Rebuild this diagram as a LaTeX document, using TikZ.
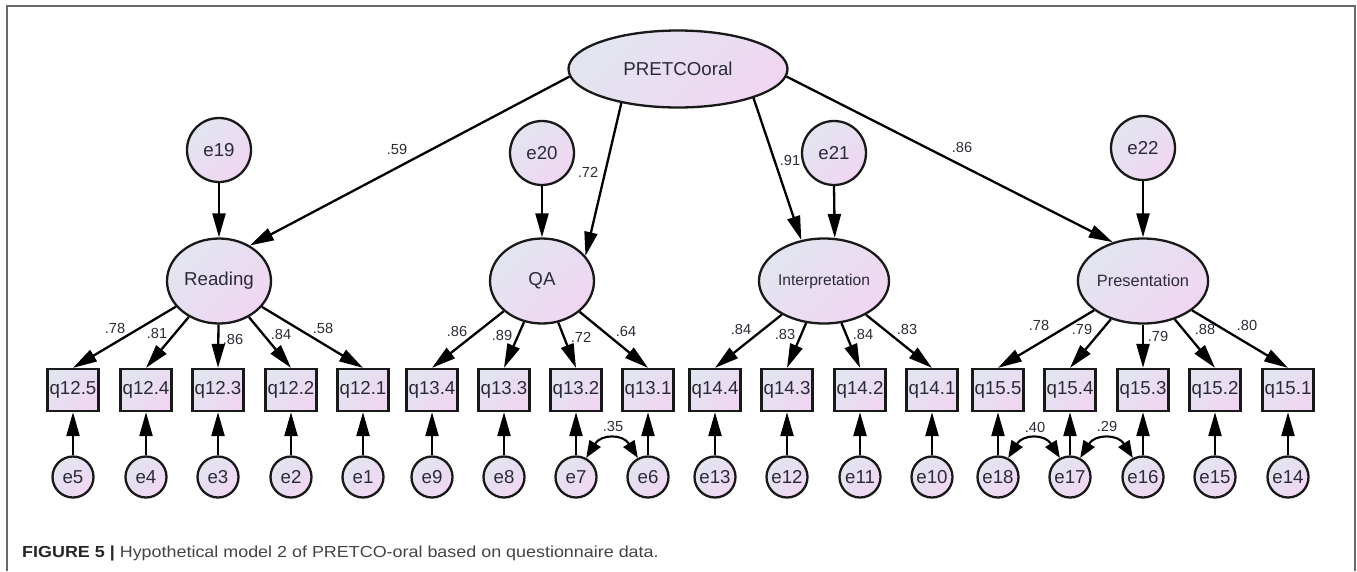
\documentclass[tikz,border=0pt]{standalone}
\usepackage{fontspec}
\setmainfont{Liberation Sans}
\newfontfamily\capfont[FakeStretch=1.12]{Liberation Sans}
\usetikzlibrary{arrows.meta,shapes.geometric}
\definecolor{fillA}{HTML}{E2E5F0}
\definecolor{fillB}{HTML}{F0D6F2}
\definecolor{ink}{HTML}{2B2B36}
\definecolor{framec}{HTML}{6A6A6A}
\definecolor{capc}{HTML}{444444}
\tikzset{
  nodebase/.style={draw=black!90, line width=2.3pt, top color=fillA, bottom color=fillB,
    shading angle=45, text=ink, inner sep=0pt, font=\fontsize{18.7}{20}\selectfont},
  lat/.style={nodebase, ellipse, minimum width=104pt, minimum height=85pt},
  obsbox/.style={nodebase, rectangle, minimum width=51pt, minimum height=42pt},
  errbig/.style={nodebase, circle, minimum size=64pt},
  errsm/.style={nodebase, circle, minimum size=41pt},
  arr/.style={line width=2.3pt, -{Triangle[length=24pt,width=13pt]}},
  covarr/.style={line width=2.1pt, {Triangle[length=17pt,width=13pt]}-{Triangle[length=17pt,width=13pt]}},
  coef/.style={text=ink, font=\fontsize{14.6}{16}\selectfont, inner sep=0pt},
}
\begin{document}
\begin{tikzpicture}[x=1pt,y=-1pt]
\useasboundingbox (0,0) rectangle (1357,571);
% frame
\draw[framec, line width=2pt] (7,571) -- (7,6) -- (1355,6) -- (1355,571);

% top latent
\node[lat, minimum width=219pt, minimum height=77pt] (P) at (678,69) {PRETCOoral};

% first-order latents
\node[lat] (Read) at (219,281) {Reading};
\node[lat] (QA) at (542,281) {QA};
\node[lat, font=\fontsize{15.6}{17}\selectfont] (Int) at (824,281) {Interpretation};
\node[lat, font=\fontsize{16.4}{18}\selectfont] (Pres) at (1143,281) {Presentation};

% disturbances
\node[errbig] (e19) at (219,150) {e19};
\node[errbig] (e20) at (542,153) {e20};
\node[errbig] (e21) at (834,153) {e21};
\node[errbig] (e22) at (1143,148) {e22};

% second-order paths
\draw[arr] (P.184) -- (Read.49);
\draw[arr] (P.211) -- (QA.30);
\draw[arr] (P.339) -- (Int.119);
\draw[arr] (P.356) -- (Pres.128);

\draw[arr] (e19) -- (Read);
\draw[arr] (e20) -- (QA);
\draw[arr] (e21.south) -- (Int.76.5);
\draw[arr] (e22) -- (Pres);

% indicators and their errors
\foreach \nm/\lab/\x/\enm/\elab in {
  q125/q12.5/73/e5/e5, q124/q12.4/146/e4/e4, q123/q12.3/218/e3/e3,
  q122/q12.2/291/e2/e2, q121/q12.1/363/e1/e1,
  q134/q13.4/432/e9/e9, q133/q13.3/504/e8/e8, q132/q13.2/576/e7/e7,
  q131/q13.1/648/e6/e6,
  q144/q14.4/715/e13/e13, q143/q14.3/787/e12/e12, q142/q14.2/860/e11/e11,
  q141/q14.1/932/e10/e10,
  q155/q15.5/998/e18/e18, q154/q15.4/1070/e17/e17, q153/q15.3/1143/e16/e16,
  q152/q15.2/1215/e15/e15, q151/q15.1/1288/e14/e14}{
  \node[obsbox] (\nm) at (\x,390) {\lab};
  \node[errsm] (\enm) at (\x,477) {\elab};
  \draw[arr] (\enm) -- (\nm);
}

% loadings
\foreach \t in {q125,q124,q123,q122,q121} \draw[arr] (Read) -- (\t.north);
\foreach \t in {q134,q133,q132,q131} \draw[arr] (QA) -- (\t.north);
\foreach \t in {q144,q143,q142,q141} \draw[arr] (Int) -- (\t.north);
\foreach \t in {q155,q154,q153,q152,q151} \draw[arr] (Pres) -- (\t.north);

% covariances
\draw[covarr] (e7.62) .. controls +(15,-24) and +(-15,-24) .. (e6.118);
\draw[covarr] (e18.62) .. controls +(15,-24) and +(-15,-24) .. (e17.118);
\draw[covarr] (e17.62) .. controls +(15,-24) and +(-15,-24) .. (e16.118);

% coefficients
\node[coef] (c1) at (397,149) {.59};
\node[coef] (c2) at (588,172) {.72};
\node[coef] (c3) at (790,160) {.91};
\node[coef] (c4) at (962,147) {.86};

\node[coef] (c5) at (115,328) {.78};
\node[coef] (c6) at (157,333) {.81};
\node[coef] (c7) at (233,339) {.86};
\node[coef] (c8) at (281,334) {.84};
\node[coef] (c9) at (323,328) {.58};

\node[coef] (c10) at (457,331) {.86};
\node[coef] (c11) at (502,335) {.89};
\node[coef] (c12) at (581,337) {.72};
\node[coef] (c13) at (626,331) {.64};

\node[coef] (c14) at (741,329) {.84};
\node[coef] (c15) at (785,334) {.83};
\node[coef] (c16) at (863,334) {.84};
\node[coef] (c17) at (907,329) {.83};

\node[coef] (c18) at (1039,325) {.78};
\node[coef] (c19) at (1082,329) {.79};
\node[coef] (c20) at (1158,336) {.79};
\node[coef] (c21) at (1205,329) {.88};
\node[coef] (c22) at (1247,325) {.80};

\node[coef] (c23) at (613,426) {.35};
\node[coef] (c24) at (1035,427) {.40};
\node[coef] (c25) at (1107,426) {.29};

% caption
\node[anchor=base west, inner sep=0pt, text=capc, font=\capfont\fontsize{16}{18}\selectfont] (cap) at (22,557)
  {\textcolor{black!85}{\textbf{FIGURE 5 |}} Hypothetical model 2 of PRETCO-oral based on questionnaire data.};
\end{tikzpicture}
\end{document}
